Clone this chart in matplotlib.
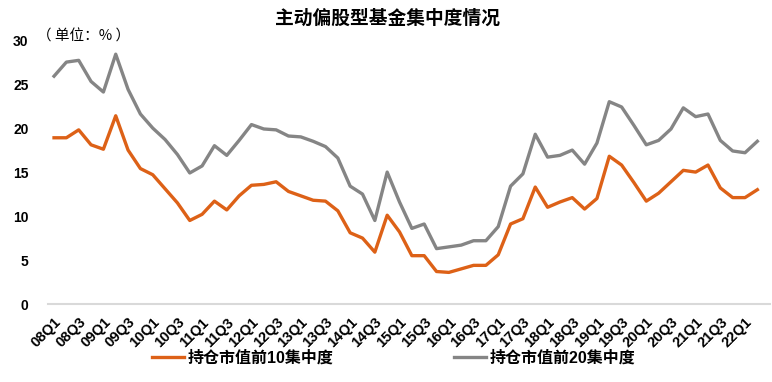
import matplotlib
matplotlib.use('Agg')
import matplotlib.pyplot as plt

plt.rcParams['font.family'] = ['Liberation Sans', 'Noto Sans CJK SC', 'DejaVu Sans']

# quarters 08Q1 .. 22Q2
quarters = ['%02dQ%d' % (y, q) for y in range(8, 23) for q in range(1, 5)][:58]

top10 = [18.9, 18.9, 19.8, 18.1, 17.6, 21.4, 17.5, 15.4, 14.7, 13.1,
         11.5, 9.5, 10.2, 11.7, 10.7, 12.3, 13.5, 13.6, 13.9, 12.8,
         12.3, 11.8, 11.7, 10.6, 8.1, 7.5, 5.9, 10.1, 8.2, 5.5,
         5.5, 3.7, 3.6, 4.0, 4.4, 4.4, 5.6, 9.1, 9.7, 13.3,
         11.0, 11.6, 12.1, 10.8, 12.0, 16.8, 15.8, 13.8, 11.7, 12.6,
         13.9, 15.2, 15.0, 15.8, 13.2, 12.1, 12.1, 13.0]

top20 = [25.9, 27.5, 27.7, 25.3, 24.1, 28.4, 24.4, 21.6, 20.0, 18.7,
         17.0, 14.9, 15.7, 18.0, 16.9, 18.6, 20.4, 19.9, 19.8, 19.1,
         19.0, 18.5, 17.9, 16.6, 13.4, 12.5, 9.5, 15.0, 11.6, 8.6,
         9.1, 6.3, 6.5, 6.7, 7.2, 7.2, 8.8, 13.4, 14.8, 19.3,
         16.7, 16.9, 17.5, 15.9, 18.3, 23.0, 22.4, 20.3, 18.1, 18.6,
         19.9, 22.3, 21.3, 21.6, 18.6, 17.4, 17.2, 18.5]

fig = plt.figure(figsize=(7.72, 3.82), dpi=100)
ax = fig.add_axes([0.062, 0.204, 0.935, 0.691])

x = range(len(quarters))
ax.plot(x, top10, color='#DD6117', lw=2.4, label='持仓市值前10集中度')
ax.plot(x, top20, color='#858585', lw=2.4, label='持仓市值前20集中度')

ax.set_xlim(-0.5, 58)
ax.set_ylim(0, 30)
ax.set_yticks([0, 5, 10, 15, 20, 25, 30])
ax.set_xticks(list(x)[::2])
ax.set_xticklabels(quarters[::2], rotation=45, ha='right', va='top',
                   rotation_mode='anchor', fontsize=10.5, fontweight='bold')
for t in ax.get_yticklabels():
    t.set_fontweight('bold')
    t.set_fontsize(10)
ax.tick_params(axis='both', length=0)
ax.tick_params(axis='y', pad=14)
ax.tick_params(axis='x', pad=8)

for s in ['top', 'right', 'left']:
    ax.spines[s].set_visible(False)
ax.spines['bottom'].set_color('#D9D9D9')
ax.spines['bottom'].set_linewidth(1.5)

fig.text(0.502, 0.952, '主动偏股型基金集中度情况', ha='center', va='center',
         fontsize=13.5, fontweight='bold', family=['Noto Sans CJK SC'])
fig.text(0.048, 0.905, '（ 单位：% ）', ha='left', va='center', fontsize=10.5,
         family=['Noto Sans CJK SC'])

leg = fig.legend(loc='center', bbox_to_anchor=(0.51, 0.062), ncol=2,
                 frameon=False, handlelength=2.0, handletextpad=0.2,
                 columnspacing=7.6, prop={'size': 11.5, 'weight': 'bold'})

fig.savefig('out.png', dpi=100)
